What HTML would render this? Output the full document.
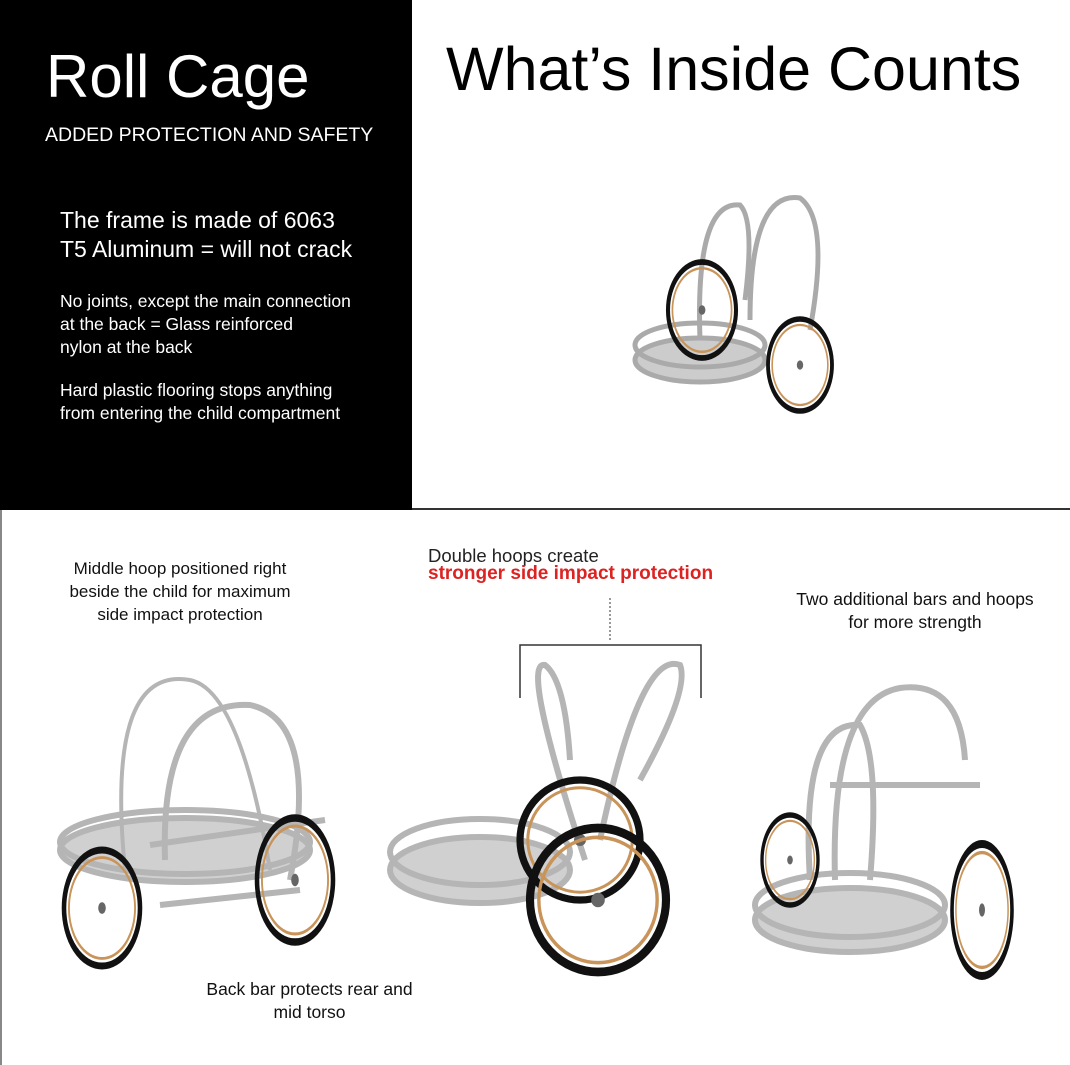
<!DOCTYPE html>
<html><head><meta charset="utf-8"><style>
body{margin:0;width:1070px;height:1065px;background:#fff;position:relative;overflow:hidden;font-family:"Liberation Sans",sans-serif}
.t{position:absolute;white-space:nowrap}
</style></head><body>
<div style="position:absolute;left:0;top:0;width:412px;height:510px;background:#000"></div>
<div style="position:absolute;left:412px;top:508px;width:658px;height:2px;background:#333"></div>
<div style="position:absolute;left:0;top:510px;width:2px;height:555px;background:#888"></div>
<div class="t" style="left:46px;top:42px;font-size:60px;color:#fff">Roll Cage</div>
<div class="t" style="left:45px;top:124px;font-size:19.5px;color:#fff">ADDED PROTECTION AND SAFETY</div>
<div class="t" style="left:60px;top:206px;font-size:23px;line-height:29px;color:#fff">The frame is made of 6063<br>T5 Aluminum = will not crack</div>
<div class="t" style="left:60px;top:290px;font-size:17.5px;line-height:23px;color:#fff">No joints, except the main connection<br>at the back = Glass reinforced<br>nylon at the back</div>
<div class="t" style="left:60px;top:379px;font-size:17.5px;line-height:23px;color:#fff">Hard plastic flooring stops anything<br>from entering the child compartment</div>
<div class="t" style="left:446px;top:34px;font-size:61px;color:#000">What’s Inside Counts</div>
<div class="t" style="left:55px;top:557px;width:250px;text-align:center;font-size:17px;line-height:23px;color:#111">Middle hoop positioned right<br>beside the child for maximum<br>side impact protection</div>
<div class="t" style="left:428px;top:545px;font-size:18.5px;color:#222">Double hoops create</div>
<div class="t" style="left:428px;top:563px;font-size:19px;font-weight:bold;color:#d22">stronger side impact protection</div>
<div class="t" style="left:786px;top:588px;width:258px;font-size:17.5px;line-height:23px;text-align:center;color:#111">Two additional bars and hoops<br>for more strength</div>
<div class="t" style="left:197px;top:978px;width:225px;font-size:17.5px;line-height:23px;text-align:center;color:#111">Back bar protects rear and<br>mid torso</div>
<svg width="1070" height="1065" style="position:absolute;left:0;top:0">
<defs><g id="w"><circle r="1" fill="none" stroke="#111" stroke-width=".12"/><circle r=".87" fill="none" stroke="#c8945a" stroke-width=".05"/><circle r=".1" fill="#666"/></g></defs>
<line x1="610" y1="598" x2="610" y2="642" stroke="#333" stroke-dasharray="2,2"/>
<polyline points="520,698 520,645 701,645 701,698" fill="none" stroke="#333" stroke-width="1.5"/>
<g fill="none" stroke="#aaa" stroke-width="5">
<ellipse cx="700" cy="360" rx="65" ry="22" fill="#ccc"/><ellipse cx="700" cy="345" rx="65" ry="22"/>
<path d="M700 340 Q695 200 740 205 Q755 220 745 300"/><path d="M750 320 Q750 190 800 198 Q830 220 810 330"/>
</g>
<use href="#w" transform="translate(702,310) scale(34,48)"/><use href="#w" transform="translate(800,365) scale(32,46)"/>
<g fill="none" stroke="#b5b5b5" stroke-width="6">
<ellipse cx="185" cy="850" rx="125" ry="32" fill="#d0d0d0"/><ellipse cx="185" cy="842" rx="125" ry="32"/>
<path d="M125 870 Q105 665 190 680 Q240 690 270 870" stroke-width="4"/><path d="M165 860 Q160 700 250 705 Q320 720 290 880"/>
<line x1="150" y1="845" x2="325" y2="820"/><line x1="160" y1="905" x2="300" y2="890"/>
</g>
<use href="#w" transform="translate(102,908) scale(38,58)"/><use href="#w" transform="translate(295,880) scale(38,62)"/>
<g fill="none" stroke="#b5b5b5" stroke-width="6">
<ellipse cx="480" cy="870" rx="90" ry="33" fill="#d0d0d0"/><ellipse cx="480" cy="852" rx="90" ry="33"/>
<path d="M585 860 Q520 660 545 665 Q565 680 570 760"/><path d="M600 840 Q640 650 680 665 Q690 690 640 780"/>
</g>
<use href="#w" transform="translate(580,840) scale(60,60)"/><use href="#w" transform="translate(598,900) scale(68,72)"/>
<g fill="none" stroke="#b5b5b5" stroke-width="6">
<ellipse cx="850" cy="920" rx="95" ry="32" fill="#d0d0d0"/><ellipse cx="850" cy="905" rx="95" ry="32"/>
<path d="M835 880 Q830 700 900 688 Q960 680 965 760"/><path d="M810 880 Q800 720 860 725 Q880 760 870 880"/>
<line x1="830" y1="785" x2="980" y2="785"/>
</g>
<use href="#w" transform="translate(790,860) scale(28,45)"/><use href="#w" transform="translate(982,910) scale(30,66)"/>
</svg>
</body></html>
